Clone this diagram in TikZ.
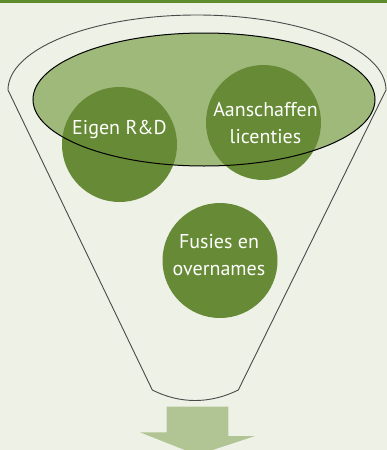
\documentclass[tikz,border=0pt]{standalone}
\usepackage{fontspec}
\setmainfont{PT Sans}
\definecolor{bgc}{HTML}{EEF1E6}
\definecolor{topbar}{HTML}{5E8C2C}
\definecolor{ellfill}{HTML}{9EB97A}
\definecolor{circfill}{HTML}{668A35}
\definecolor{arrowfill}{HTML}{B0C494}
\definecolor{funnelline}{HTML}{4A4A4A}
\begin{document}
\begin{tikzpicture}[x=1pt,y=-1pt,
  bubble/.style={circle, fill=circfill, draw=none, minimum size=115pt, inner sep=0pt},
  label/.style={text=white, align=center, font=\fontsize{20}{27}\selectfont}]
\useasboundingbox (0,0) rectangle (387,450);
\fill[bgc] (0,0) rectangle (387,450);
\fill[topbar] (0,0) rectangle (387,2.5);
% funnel outline
\coordinate (fl) at (8,90);
\coordinate (fr) at (386,90);
\coordinate (bl) at (152.3,390);
\coordinate (br) at (238.3,390);
\draw[funnelline, line width=0.9pt, line join=round]
  (fl) arc[start angle=180, end angle=360, x radius=189, y radius=75]
  -- (br) .. controls (210,404) and (180,404) .. (bl) -- cycle;
% inner ellipse fill
\fill[ellfill] (204,99.5) ellipse[x radius=171, y radius=66.5];
% circles
\node[bubble] (rd) at (119.5,144.5) {};
\node[bubble] (lic) at (263.5,122.5) {};
\node[bubble] (fus) at (220,260.5) {};
% ellipse outline on top
\draw[black, line width=1pt] (204,99.5) ellipse[x radius=171, y radius=66.5];
\node[label] (rdt) at (119.5,129) {Eigen R\&D};
\node[label] (lict) at (265.5,123.5) {Aanschaffen\\licenties};
\node[label] (fust) at (219,255.5) {Fusies en\\overnames};
% arrow
\fill[arrowfill] (166.7,406.7) -- (228.3,406.7) -- (228.3,436) -- (255,436)
  -- (197.5,455) -- (140,432.3) -- (166.7,432.3) -- cycle;
\end{tikzpicture}
\end{document}
